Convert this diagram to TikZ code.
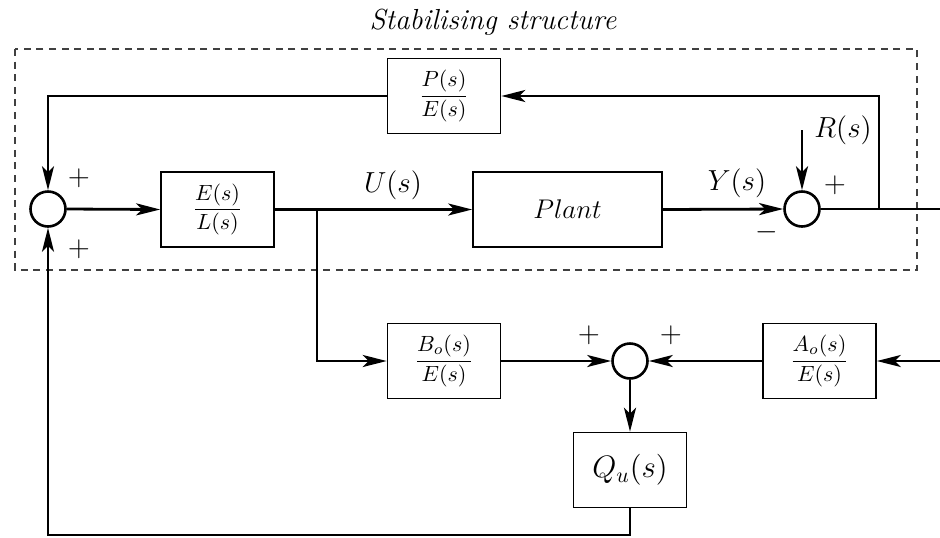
\RequirePackage{fix-cm}
\documentclass[tikz,border=0pt]{standalone}
\usetikzlibrary{arrows.meta}
\begin{document}
\begin{tikzpicture}[x=0.5pt,y=-0.5pt,
  blk/.style={draw, line width=0.8pt, minimum width=56.5pt, minimum height=37.5pt, inner sep=0pt},
  sumc/.style={draw, circle, line width=1.3pt, minimum size=17.5pt, inner sep=0pt},
  sig/.style={line width=1.4pt},
  arr/.style={sig, -{Stealth[length=12pt,width=6pt,inset=3pt]}},
  lbl/.style={font=\fontsize{14.5}{17}\selectfont, inner sep=0pt},
  frc/.style={font=\fontsize{11}{13}\selectfont},
  box/.style={draw=black!75, line width=0.7pt, dash pattern=on 3.5pt off 2.8pt}
]
\useasboundingbox (0,0) rectangle (940,537);
\node[lbl] (title) at (493,22) {\itshape Stabilising structure};
\draw[box] (15,49) rectangle (917,270);

\node[sumc] (s1) at (48,209) {};
\node[blk, frc] (EL) at (217.5,209.5) {$\displaystyle\frac{E(s)}{L(s)}$};
\node[blk, font=\fontsize{13.5}{16}\selectfont, minimum width=94.5pt, minimum height=37.5pt] (plant) at (567.5,209.5) {$Plant$};
\node[sumc] (s2) at (802,209) {};
\node[blk, frc] (PE) at (444,96) {$\displaystyle\frac{P(s)}{E(s)}$};
\node[blk, frc] (Bo) at (444,361) {$\displaystyle\frac{B_o(s)}{E(s)}$};
\node[sumc] (s3) at (630,361) {};
\node[blk, frc] (Ao) at (819.5,361) {$\displaystyle\frac{A_o(s)}{E(s)}$};
\node[blk, font=\fontsize{15.5}{18}\selectfont] (Qu) at (630,470) {$Q_u(s)$};

\coordinate (j1) at (317,209);
\coordinate (j2) at (879,209);
\coordinate (out) at (940,209);
\coordinate (rin) at (802,130);
\coordinate (ain) at (940,361);
\coordinate (bot) at (630,535);

\draw[sig] (s2.east) -- (out);
\draw[arr] (j2) |- (PE.east);
\draw[arr] (PE.west) -| (s1.north);
\draw[arr] (s1.east) -- (EL.west);
\draw[arr] (EL.east) -- (plant.west);
\draw[arr] (plant.east) -- (s2.west);
\draw[arr] (rin) -- (s2.north);
\draw[arr] (j1) |- (Bo.west);
\draw[arr] (Bo.east) -- (s3.west);
\draw[arr] (Ao.west) -- (s3.east);
\draw[arr] (ain) -- (Ao.east);
\draw[arr] (s3.south) -- (Qu.north);
\draw[arr] (Qu.south) -- (bot) -| (s1.south);

\node[lbl] (p1) at (79,178) {$+$};
\node[lbl] (p2) at (79,249) {$+$};
\node[lbl] (p3) at (835,185) {$+$};
\node[lbl] (m1) at (767,232) {$-$};
\node[lbl] (p4) at (589,335) {$+$};
\node[lbl] (p5) at (671,335) {$+$};
\node[lbl] (U) at (393,185) {$U(s)$};
\node[lbl] (Y) at (737,183) {$Y(s)$};
\node[lbl] (R) at (843,130) {$R(s)$};
\end{tikzpicture}
\end{document}
